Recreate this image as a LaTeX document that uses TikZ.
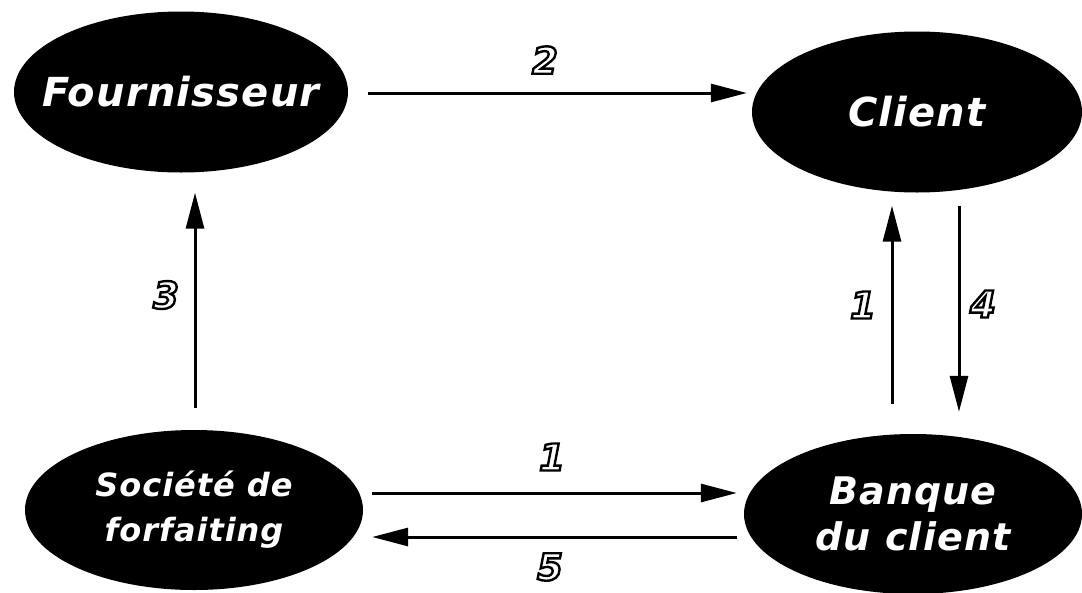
\documentclass[tikz,border=0pt]{standalone}
\usepackage{fontspec}
\newfontfamily\lblfont{DejaVu Sans}[LetterSpace=3]
\newcommand\outlined[1]{\special{pdf:literal direct q 1 Tr 2.4 w 0 G}#1\special{pdf:literal direct Q}}
\usetikzlibrary{shapes.geometric,arrows.meta}
\begin{document}
\begin{tikzpicture}[x=1pt,y=-1pt,
  blob/.style={ellipse, fill=black, inner sep=0pt},
  inblob/.style={text=white, align=center, inner sep=0pt,
    font=\lblfont\bfseries\itshape\fontsize{40}{44}\selectfont},
  arr/.style={line width=3pt, -{Triangle[length=36pt,width=18pt]}},
  num/.style={inner sep=0pt, text=black, font=\lblfont\bfseries\itshape\fontsize{37}{37}\selectfont}]
\useasboundingbox (0,0) rectangle (1082,592);
\node[blob, minimum width=334pt, minimum height=161pt,
  label={[inblob]center:Fournisseur}] (F) at (181,92) {};
\node[blob, minimum width=330pt, minimum height=161pt,
  label={[inblob]center:Client}] (C) at (917,112) {};
\node[blob, minimum width=338pt, minimum height=160pt,
  label={[inblob, font=\lblfont\bfseries\itshape\fontsize{32}{45}\selectfont]center:Société de\\forfaiting}] (S) at (194,510) {};
\node[blob, minimum width=338pt, minimum height=160pt,
  label={[inblob, font=\lblfont\bfseries\itshape\fontsize{38}{46}\selectfont]center:Banque\\du client}] (B) at (913,514) {};
% connectors
\draw[arr] ([xshift=20pt,yshift=-1pt]F.east) -- ([xshift=-5pt,yshift=19pt]C.west);
\draw[arr] ([xshift=1pt,yshift=22pt]S.north) -- ([xshift=14pt,yshift=-20pt]F.south);
\draw[arr] ([xshift=-21pt,yshift=30pt]B.north) -- ([xshift=-25pt,yshift=-13pt]C.south);
\draw[arr] ([xshift=42pt,yshift=-13pt]C.south) -- ([xshift=46pt,yshift=22pt]B.north);
\draw[arr] ([xshift=9pt,yshift=17pt]S.east) -- ([xshift=-7pt,yshift=21pt]B.west);
\draw[arr] ([xshift=-7pt,yshift=-23pt]B.west) -- ([xshift=9pt,yshift=-27pt]S.east);
% labels
\node[num] (n2) at (545,60) {\outlined{2}};
\node[num] (n3) at (166,295) {\outlined{3}};
\node[num] (n1v) at (863,305) {\outlined{1}};
\node[num] (n4) at (983,304) {\outlined{4}};
\node[num] (n1h) at (552,457) {\outlined{1}};
\node[num] (n5) at (550,567) {\outlined{5}};
\end{tikzpicture}
\end{document}
